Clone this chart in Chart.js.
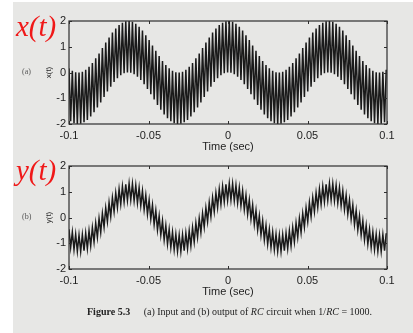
<!DOCTYPE html>
<html>
<head>
<meta charset="utf-8">
<script src="https://cdn.jsdelivr.net/npm/chart.js@4.4.1/dist/chart.umd.min.js"></script>
<style>
  html, body { margin: 0; padding: 0; background: #fff; }
  #wrap { position: relative; width: 413px; height: 333px; overflow: hidden; }
  .page { position: absolute; left: 13px; top: 2px; right: 0; bottom: 0; background: #e7e7e5; }
  canvas { position: absolute; left: 0; }
  .sig { position: absolute; left: 16px; color: #f01818; font-family: 'Liberation Serif', serif; font-style: italic; font-size: 29px; line-height: 1; white-space: nowrap; }
  .part { position: absolute; left: 22px; font-family: 'Liberation Serif', serif; font-size: 8px; line-height: 1; color: #555; }
  .caption { position: absolute; left: 87px; top: 307px; font-family: 'Liberation Serif', serif; font-size: 10px; line-height: 1; color: #222; white-space: nowrap; }
  .caption b { margin-right: 11px; }
</style>
</head>
<body>
<div id="wrap">
  <div class="page"></div>
  <canvas id="inputChart" width="413" height="155" style="top:0"></canvas>
  <canvas id="outputChart" width="413" height="150" style="top:150px"></canvas>
  <div class="sig" style="top:12px">x(t)</div>
  <div class="sig" style="top:156px">y(t)</div>
  <div class="part" style="top:68px">(a)</div>
  <div class="part" style="top:213px">(b)</div>
  <div class="caption"><b>Figure 5.3</b> (a) Input and (b) output of <i>RC</i> circuit when 1/<i>RC</i> = 1000.</div>
</div>
<script>
// time axis: samples at the peaks/troughs of the fast ripple
const tStart = -0.1;
const tStep = 0.00105;

const xTicks = [-0.1, -0.05, 0, 0.05, 0.1];
const xTickLabels = ['-0.1', '-0.05', '0', '0.05', '0.1'];
const yTicks = [-2, -1, 0, 1, 2];
const yTickLabels = ['-2', '-1', '0', '1', '2'];

// (a) input x(t)
const inputValues = [
  0.16,-1.89,0.07,-1.97,0.01,-2.00,0.00,-1.99,0.03,-1.93,
  0.11,-1.84,0.22,-1.71,0.37,-1.54,0.55,-1.36,0.74,-1.16,
  0.95,-0.95,1.16,-0.74,1.36,-0.55,1.55,-0.37,1.71,-0.22,
  1.84,-0.11,1.93,-0.03,1.99,0.00,2.00,-0.01,1.97,-0.07,
  1.89,-0.16,1.78,-0.29,1.63,-0.46,1.45,-0.64,1.26,-0.84,
  1.05,-1.05,0.84,-1.26,0.64,-1.45,0.45,-1.63,0.29,-1.78,
  0.16,-1.89,0.07,-1.97,0.01,-2.00,0.00,-1.99,0.03,-1.93,
  0.11,-1.84,0.22,-1.71,0.37,-1.54,0.55,-1.36,0.74,-1.16,
  0.95,-0.95,1.16,-0.74,1.36,-0.55,1.55,-0.37,1.71,-0.22,
  1.84,-0.11,1.93,-0.03,1.99,0.00,2.00,-0.01,1.97,-0.07,
  1.89,-0.16,1.78,-0.29,1.63,-0.46,1.45,-0.64,1.26,-0.84,
  1.05,-1.05,0.84,-1.26,0.64,-1.45,0.45,-1.63,0.29,-1.78,
  0.16,-1.89,0.07,-1.97,0.01,-2.00,0.00,-1.99,0.03,-1.93,
  0.11,-1.84,0.22,-1.71,0.37,-1.54,0.55,-1.36,0.74,-1.16,
  0.95,-0.95,1.16,-0.74,1.36,-0.55,1.55,-0.37,1.71,-0.22,
  1.84,-0.11,1.93,-0.03,1.99,0.00,2.00,-0.01,1.97,-0.07,
  1.89,-0.16,1.78,-0.29,1.63,-0.46,1.45,-0.64,1.26,-0.84,
  1.05,-1.05,0.84,-1.26,0.64,-1.45,0.45,-1.63,0.29,-1.78,
  0.16,-1.89,0.07,-1.97,0.01,-2.00,0.00,-1.99,0.03,-1.93,
  0.11
];

// (b) output y(t)
const outputValues = [
  -0.46,-1.16,-0.57,-1.25,-0.65,-1.31,-0.68,-1.32,-0.67,-1.29,
  -0.61,-1.21,-0.52,-1.10,-0.39,-0.95,-0.22,-0.77,-0.04,-0.58,
  0.16,-0.37,0.37,-0.16,0.58,0.04,0.77,0.23,0.95,0.39,
  1.10,0.52,1.21,0.61,1.29,0.67,1.32,0.68,1.31,0.65,
  1.25,0.57,1.16,0.46,1.03,0.31,0.86,0.13,0.68,-0.06,
  0.48,-0.27,0.27,-0.48,0.06,-0.68,-0.13,-0.87,-0.31,-1.03,
  -0.46,-1.16,-0.57,-1.25,-0.65,-1.31,-0.68,-1.32,-0.67,-1.29,
  -0.61,-1.21,-0.52,-1.10,-0.39,-0.95,-0.22,-0.77,-0.04,-0.58,
  0.16,-0.37,0.37,-0.16,0.58,0.04,0.77,0.23,0.95,0.39,
  1.10,0.52,1.21,0.61,1.29,0.67,1.32,0.68,1.31,0.65,
  1.25,0.57,1.16,0.46,1.03,0.31,0.86,0.13,0.68,-0.06,
  0.48,-0.27,0.27,-0.48,0.06,-0.68,-0.13,-0.87,-0.31,-1.03,
  -0.46,-1.16,-0.57,-1.25,-0.65,-1.31,-0.68,-1.32,-0.67,-1.29,
  -0.61,-1.21,-0.52,-1.10,-0.39,-0.95,-0.22,-0.77,-0.04,-0.58,
  0.16,-0.37,0.37,-0.16,0.58,0.04,0.77,0.23,0.95,0.39,
  1.10,0.52,1.21,0.61,1.29,0.67,1.32,0.68,1.31,0.65,
  1.25,0.57,1.16,0.46,1.03,0.31,0.86,0.13,0.68,-0.06,
  0.48,-0.27,0.27,-0.48,0.06,-0.68,-0.13,-0.87,-0.31,-1.03,
  -0.46,-1.16,-0.57,-1.25,-0.65,-1.31,-0.68,-1.32,-0.67,-1.29,
  -0.61
];

// matlab style box with inward ticks on all four sides
const boxTicks = {
  id: 'boxTicks',
  afterDraw(chart) {
    const { ctx, chartArea: a, scales } = chart;
    ctx.save();
    ctx.strokeStyle = '#2e2e2e';
    ctx.lineWidth = 1.2;
    ctx.strokeRect(a.left, a.top, a.right - a.left, a.bottom - a.top);
    ctx.lineWidth = 1;
    ctx.beginPath();
    scales.x.ticks.forEach(t => {
      const px = Math.round(scales.x.getPixelForValue(t.value)) + 0.5;
      ctx.moveTo(px, a.bottom); ctx.lineTo(px, a.bottom - 3);
      ctx.moveTo(px, a.top); ctx.lineTo(px, a.top + 3);
    });
    scales.y.ticks.forEach(t => {
      const py = Math.round(scales.y.getPixelForValue(t.value)) + 0.5;
      ctx.moveTo(a.left, py); ctx.lineTo(a.left + 3, py);
      ctx.moveTo(a.right, py); ctx.lineTo(a.right - 3, py);
    });
    ctx.stroke();
    ctx.restore();
  }
};

function makeChart(id, values, yTitle, padTop) {
  const ctx = document.getElementById(id).getContext('2d');
  return new Chart(ctx, {
    type: 'line',
    data: {
      datasets: [{
        data: values.map((v, i) => ({ x: tStart + i * tStep, y: v })),
        borderColor: '#1a1a1a',
        borderWidth: 1.5,
        pointRadius: 0,
        tension: 0
      }]
    },
    options: {
      responsive: false,
      animation: false,
      layout: { padding: { top: padTop, right: 26, left: 0, bottom: 0 } },
      plugins: { legend: { display: false }, tooltip: { enabled: false } },
      scales: {
        x: {
          type: 'linear',
          min: -0.1,
          max: 0.1,
          afterBuildTicks: s => { s.ticks = xTicks.map(v => ({ value: v })); },
          afterFit: s => { s.height = 31; },
          grid: { display: false, drawTicks: false },
          border: { display: false },
          ticks: {
            padding: 5,
            maxRotation: 0,
            autoSkip: false,
            color: '#1e1e1e',
            font: { family: 'Liberation Sans', size: 11 },
            callback: (v, i) => xTickLabels[i]
          },
          title: {
            display: true,
            text: 'Time (sec)',
            color: '#1e1e1e',
            font: { family: 'Liberation Sans', size: 11 },
            padding: { top: 0, bottom: 1 }
          }
        },
        y: {
          min: -2,
          max: 2,
          afterBuildTicks: s => { s.ticks = yTicks.map(v => ({ value: v })); },
          afterFit: s => { s.width = 69; },
          grid: { display: false, drawTicks: false },
          border: { display: false },
          ticks: {
            padding: 3,
            color: '#1e1e1e',
            font: { family: 'Liberation Sans', size: 11 },
            callback: (v, i) => yTickLabels[i]
          },
          title: {
            display: true,
            text: yTitle,
            color: '#2a2a2a',
            font: { family: 'Liberation Sans', size: 8 },
            padding: { top: 44, bottom: 0 }
          }
        }
      }
    },
    plugins: [boxTicks]
  });
}

makeChart('inputChart', inputValues, 'x(t)', 21);
makeChart('outputChart', outputValues, 'y(t)', 16);
</script>
</body>
</html>
